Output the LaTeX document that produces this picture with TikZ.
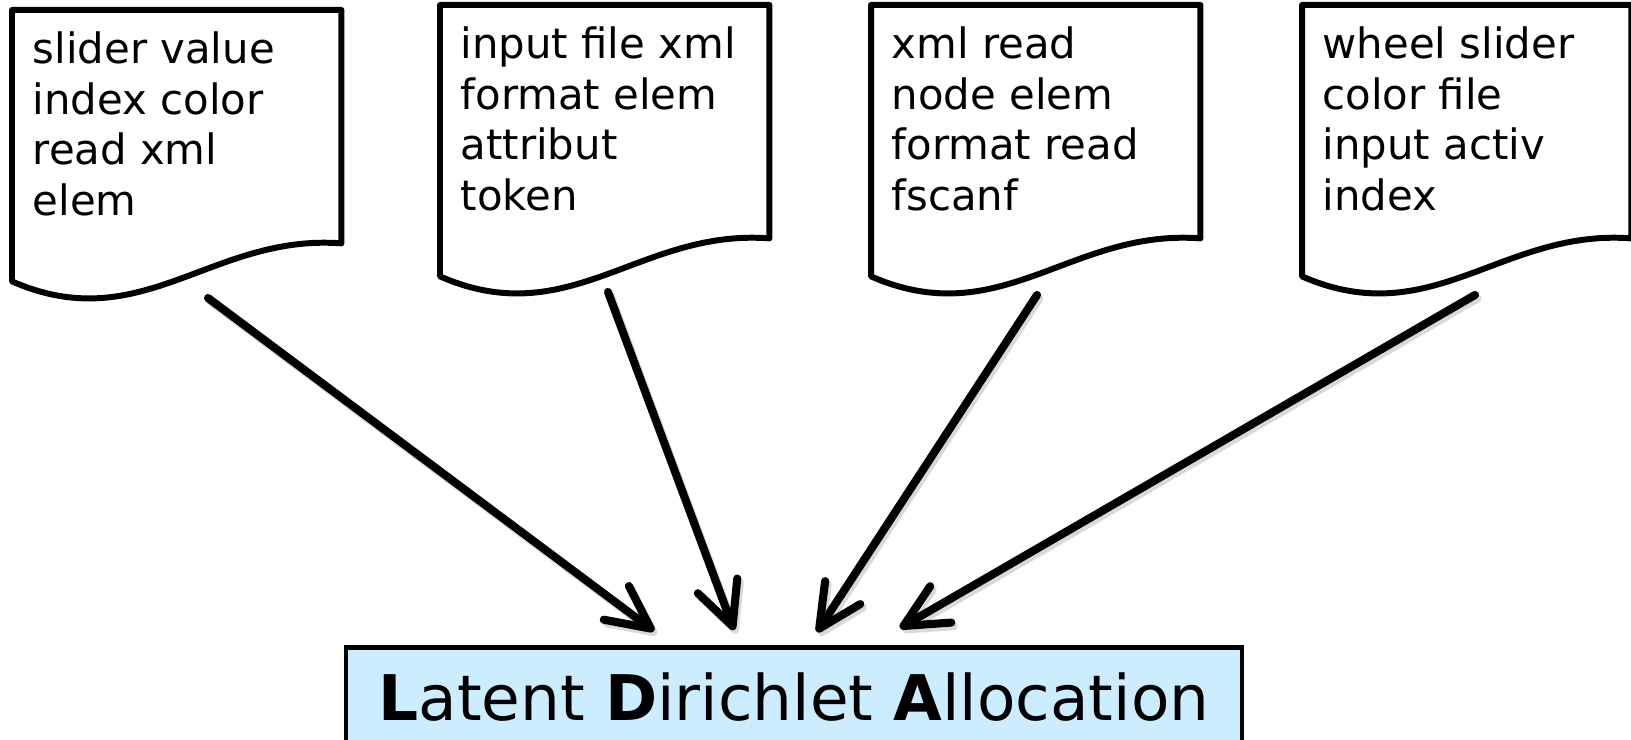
\documentclass[tikz,border=0pt]{standalone}
\usepackage{fontspec}
\setmainfont{DejaVu Sans}
\usepackage{tikz}
\usetikzlibrary{arrows.meta,calc}
\definecolor{ldablue}{RGB}{204,236,255}
\tikzset{>={Straight Barb[length=0.43cm,width=0.42cm,round]},
  font=\fontsize{11.9}{14.4}\selectfont,
  doc/.style={anchor=north west,minimum width=3.28cm,minimum height=2.32cm,inner sep=0pt},
  words/.style={anchor=north west,align=left,inner sep=0pt,xshift=0.2cm,yshift=-0.21cm},
  sheet/.style={line width=1.7pt,line join=round},
  flow/.style={line width=2.3pt,line cap=round,line join=round,
    every edge/.append style={preaction={draw=black!15,transform canvas={shift={(0.025,-0.035)}}}}}}

\begin{document}
\begin{tikzpicture}
\useasboundingbox (0,0) rectangle (16.31,7.40);
\node[doc,label={[words]north west:{slider value\\index color\\read xml\\elem}}] (D1) at (0.12,7.30) {};
\node[doc,label={[words]north west:{input file xml\\format elem\\attribut\\token}}] (D2) at (4.40,7.35) {};
\node[doc,label={[words]north west:{xml read\\node elem\\format read\\fscanf}}] (D3) at (8.71,7.35) {};
\node[doc,label={[words]north west:{wheel slider\\color file\\input activ\\index}}] (D4) at (13.02,7.35) {};
\node[draw,fill=ldablue,line width=1.4pt,anchor=north,inner sep=0pt,minimum width=8.96cm,
  text height=0.73cm,text depth=0.5cm,font=\fontsize{17.9}{21}\selectfont] (LDA) at (7.94,0.95)
  {{\bfseries L}atent {\bfseries D}irichlet {\bfseries A}llocation};
% sheet outlines
\foreach \d in {D1,D2,D3,D4}
  \draw[sheet] (\d.north west) -- (\d.north east) -- (\d.south east)
    .. controls ($(\d.south west)+(2.00,0.10)$) and ($(\d.south west)+(1.30,-0.95)$)
    .. ($(\d.south west)+(0,-0.38)$) -- cycle;
\coordinate (T1) at ($(D1.north west)+(1.96,-2.88)$);
\coordinate (T2) at ($(D2.north west)+(1.68,-2.87)$);
\coordinate (T3) at ($(D3.north west)+(1.66,-2.90)$);
\coordinate (T4) at ($(D4.north west)+(1.73,-2.90)$);
\coordinate (H1) at ($(LDA.north)+(-1.40,0.14)$);
\coordinate (H2) at ($(LDA.north)+(-0.60,0.15)$);
\coordinate (H3) at ($(LDA.north)+(0.23,0.13)$);
\coordinate (H4) at ($(LDA.north)+(1.06,0.17)$);
\path[->,flow] (T1) edge (H1) (T2) edge (H2) (T3) edge (H3) (T4) edge (H4);
\end{tikzpicture}
\end{document}
